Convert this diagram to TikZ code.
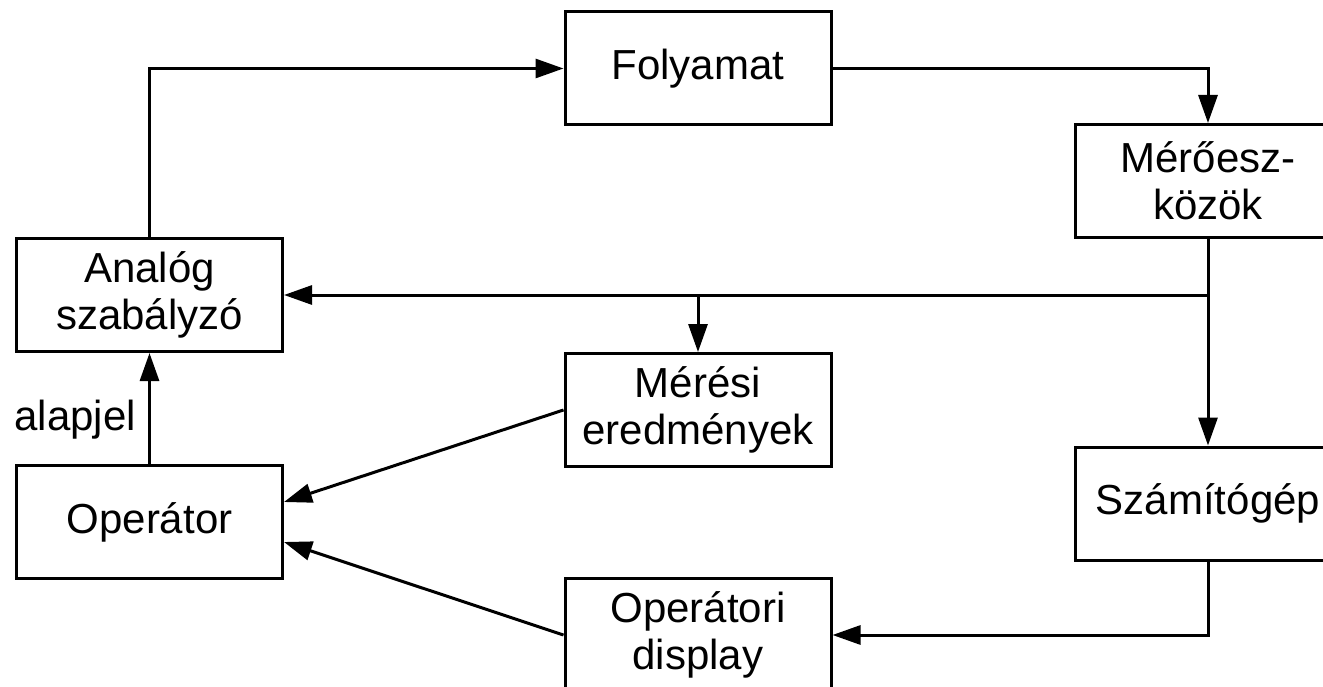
\documentclass[tikz,border=0pt]{standalone}
\usepackage{fontspec}
\setmainfont{Liberation Sans}
\usetikzlibrary{arrows.meta}
\begin{document}
\begin{tikzpicture}[x=1pt,y=-1pt,
  box/.style={draw, line width=3pt, minimum width=266pt, minimum height=113pt,
    inner sep=0pt, align=center, font=\fontsize{42}{47}\selectfont},
  conn/.style={line width=3pt, -{Triangle[length=28pt,width=19pt]}},
  plain/.style={line width=3pt}]
\clip (0,0) rectangle (1323,687);
% blocks
\node[box] (folyamat) at (698,68.5) {Folyamat};
\node[box] (meroeszk) at (1208,181) {Mérőesz-\\közök};
\node[box] (analog)   at (149.5,295) {Analóg\\szabályzó};
\node[box] (meresi)   at (698,410) {Mérési\\eredmények};
\node[box] (operator) at (149.5,522) {Operátor};
\node[box] (szamito)  at (1208,503.5) {Számítógép};
\node[box] (opdisp)   at (698,635) {Operátori\\display};
% junctions on the measurement bus
\coordinate (busR) at (meroeszk.south |- analog.east);
\coordinate (busM) at (meresi.north |- analog.east);
% connectors
\draw[conn] (analog.north) |- (folyamat.west);
\draw[conn] (folyamat.east) -| (meroeszk.north);
\draw[conn] (meroeszk.south) -- (szamito.north);
\draw[conn] (busR) -- (analog.east);
\draw[conn] (busM) -- (meresi.north);
\draw[conn] (szamito.south) |- (opdisp.east);
\draw[conn] (meresi.west) -- ([yshift=20pt]operator.east);
\draw[conn] (opdisp.west) -- ([yshift=-20pt]operator.east);
\draw[conn] (operator.north) -- (analog.south)
  node[pos=0.4, left, inner sep=12pt, font=\fontsize{42}{47}\selectfont] (alapjel) {alapjel};
\end{tikzpicture}
\end{document}
